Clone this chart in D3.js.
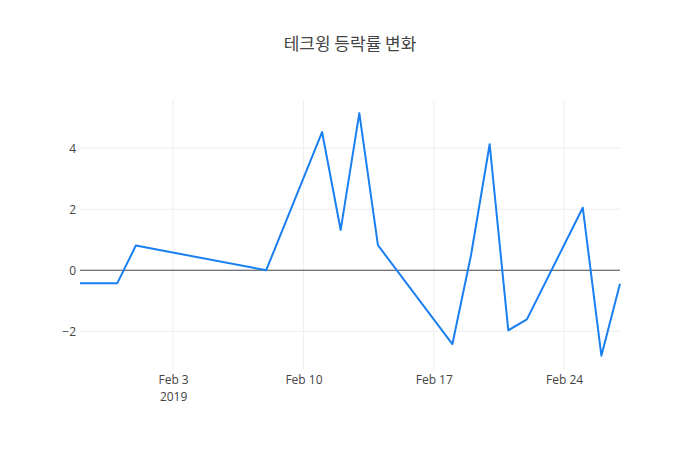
<!DOCTYPE html>
<html>
<head>
<meta charset="utf-8">
<script src="https://cdn.jsdelivr.net/npm/d3@7"></script>
<style>
  body { margin: 0; background: #fff; }
  svg { font-family: "Open Sans", "Noto Sans CJK KR", sans-serif; }
</style>
</head>
<body>
<div id="app"></div>
<script>
// trading days and daily change (%)
const dates = ['2019-01-29', '2019-01-31', '2019-02-01', '2019-02-08', '2019-02-11',
  '2019-02-12', '2019-02-13', '2019-02-14', '2019-02-18', '2019-02-19', '2019-02-20',
  '2019-02-21', '2019-02-22', '2019-02-25', '2019-02-26', '2019-02-27']
const changes = [-0.43, -0.43, 0.81, 0.0, 4.53, 1.32, 5.15, 0.82, -2.42, 0.5, 4.13,
  -1.97, -1.61, 2.05, -2.8, -0.44]
const yTicks = [-2, 0, 2, 4]
const xTicks = ['2019-02-03', '2019-02-10', '2019-02-17', '2019-02-24']

const W = 700, H = 450
const m = { t: 100, r: 80, b: 80, l: 80 }
const parse = d3.timeParse('%Y-%m-%d')
const pts = dates.map((d, i) => ({ date: parse(d), v: changes[i] }))

const svg = d3.select('#app').append('svg').attr('width', W).attr('height', H)

const x = d3.scaleTime()
  .domain(d3.extent(pts, d => d.date))
  .range([m.l, W - m.r])
const y = d3.scaleLinear()
  .domain([-3.27, 5.58])
  .range([H - m.b, m.t])

// grid
svg.append('g')
  .selectAll('line.vx')
  .data(xTicks.map(parse))
  .join('line')
  .attr('x1', d => x(d)).attr('x2', d => x(d))
  .attr('y1', m.t).attr('y2', H - m.b)
  .attr('stroke', '#eee')

svg.append('g')
  .selectAll('line.hy')
  .data(yTicks.filter(t => t !== 0))
  .join('line')
  .attr('x1', m.l).attr('x2', W - m.r)
  .attr('y1', d => y(d)).attr('y2', d => y(d))
  .attr('stroke', '#eee')

// axes
const yAxis = svg.append('g')
  .attr('transform', `translate(${m.l},0)`)
  .call(d3.axisLeft(y).tickValues(yTicks).tickSize(0).tickPadding(4)
    .tickFormat(d => d < 0 ? '\u2212' + Math.abs(d) : d))
yAxis.select('.domain').remove()
yAxis.selectAll('text').attr('fill', '#444').attr('font-size', 12)
  .attr('font-family', '"Open Sans", sans-serif')

const xAxis = svg.append('g')
  .attr('transform', `translate(0,${H - m.b})`)
  .call(d3.axisBottom(x).tickValues(xTicks.map(parse)).tickSize(0).tickPadding(5)
    .tickFormat(d3.timeFormat('%b %-d')))
xAxis.select('.domain').remove()
xAxis.selectAll('text').attr('fill', '#444').attr('font-size', 12)
  .attr('font-family', '"Open Sans", sans-serif')
xAxis.selectAll('.tick')
  .filter((d, i) => i === 0)
  .append('text')
  .attr('y', 22).attr('dy', '0.71em')
  .attr('text-anchor', 'middle')
  .attr('fill', '#444').attr('font-size', 12)
  .attr('font-family', '"Open Sans", sans-serif')
  .text('2019')

// zero line
svg.append('line')
  .attr('x1', m.l).attr('x2', W - m.r)
  .attr('y1', y(0)).attr('y2', y(0))
  .attr('stroke', '#444').attr('stroke-width', 1)

// series
const line = d3.line().x(d => x(d.date)).y(d => y(d.v))
svg.append('path')
  .datum(pts)
  .attr('fill', 'none')
  .attr('stroke', '#1a7ff0')
  .attr('stroke-width', 2)
  .attr('stroke-linejoin', 'round')
  .attr('d', line)

// title
svg.append('text')
  .attr('x', W / 2).attr('y', 50)
  .attr('text-anchor', 'middle')
  .attr('font-size', 17)
  .attr('fill', '#444')
  .attr('font-family', '"Noto Sans CJK KR", "Open Sans", sans-serif')
  .text('테크윙 등락률 변화')
</script>
</body>
</html>
